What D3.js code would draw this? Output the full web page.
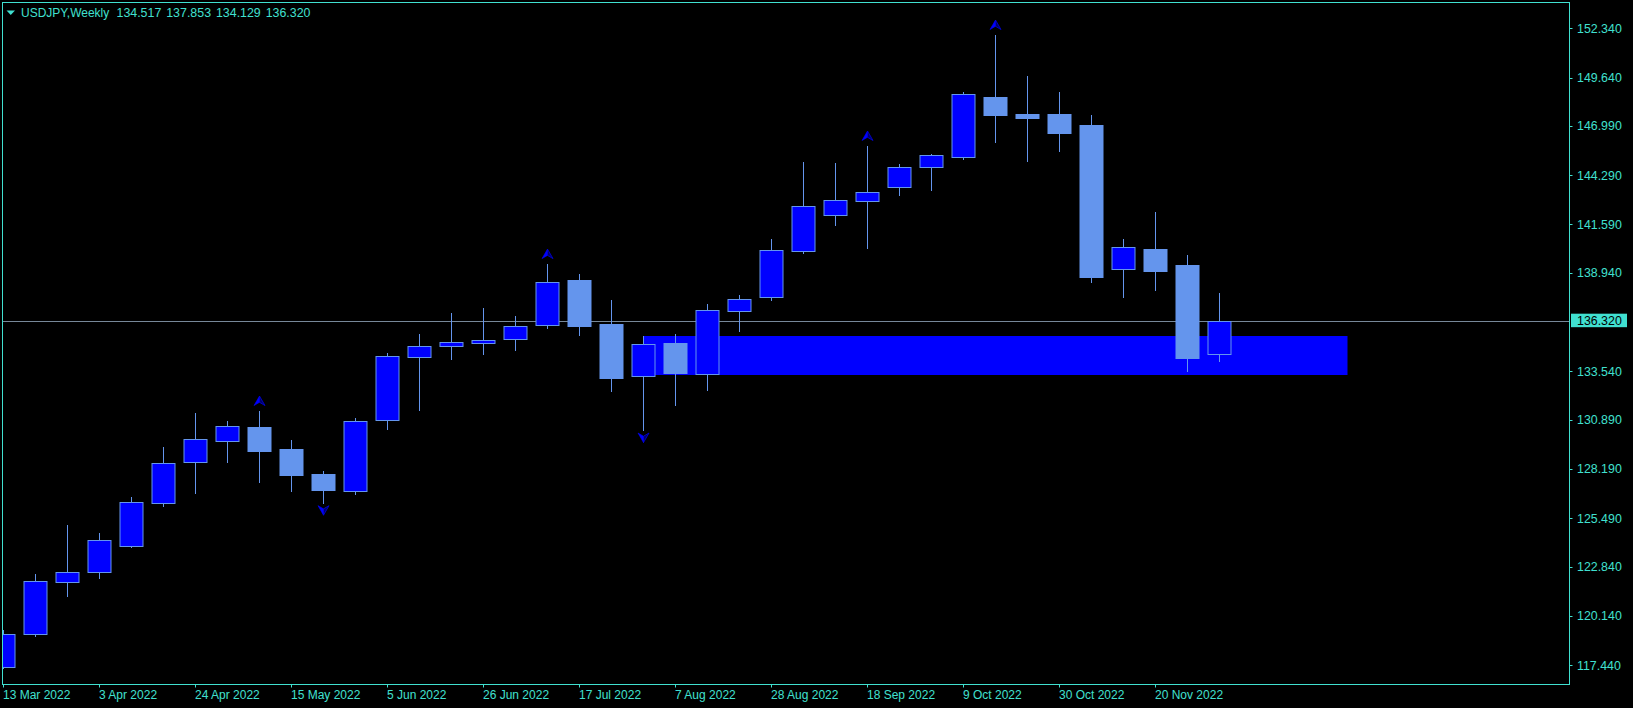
<!DOCTYPE html>
<html>
<head>
<meta charset="utf-8">
<script src="https://cdn.jsdelivr.net/npm/d3@7/dist/d3.min.js"></script>
<style>
  html, body { margin: 0; padding: 0; background: #000; overflow: hidden; }
  svg { display: block; }
  text { font-family: "Liberation Sans", Arial, sans-serif; }
</style>
</head>
<body>
<svg id="chart" width="1633" height="708"></svg>
<script>
// ---- Data (USDJPY weekly) ----
const symbol = "USDJPY,Weekly";
const lastOHLC = ["134.517", "137.853", "134.129", "136.320"];
const opens  = [117.33,119.13,122.02,122.56,123.96,126.35,128.56,129.71,130.49,129.29,127.92,127.00,130.86,134.31,134.92,135.08,135.30,136.07,138.53,136.12,133.27,135.10,133.38,136.83,137.60,140.12,142.09,142.86,143.63,144.72,145.27,148.58,147.64,147.64,147.04,139.13,140.25,139.37,134.517];
const highs  = [119.37,122.44,125.12,124.69,126.66,129.40,131.26,130.82,131.37,129.78,128.08,130.99,134.53,135.59,136.74,137.01,136.58,139.42,138.88,137.45,135.48,135.59,137.23,137.73,140.79,145.01,144.96,145.89,144.90,145.45,148.85,151.97,149.73,148.85,147.59,140.79,142.27,139.92,137.853];
const lows   = [117.27,119.04,121.25,122.24,123.93,126.18,126.89,128.59,127.50,126.99,126.35,126.84,130.40,131.44,134.22,134.51,134.73,135.93,135.55,132.48,130.33,131.72,132.54,135.77,137.47,140.04,141.58,140.32,143.19,143.50,145.19,146.13,145.09,145.63,138.46,137.63,138.00,133.58,134.129];
const closes = [119.13,122.04,122.53,124.29,126.37,128.50,129.82,130.53,129.18,127.88,127.04,130.81,134.37,134.92,135.13,135.24,136.01,138.42,136.04,133.19,135.02,133.45,136.89,137.49,140.18,142.59,142.92,143.35,144.72,145.38,148.72,147.61,147.44,146.62,138.73,140.34,139.06,134.29,136.320];
const dateLabels = ["13 Mar 2022","3 Apr 2022","24 Apr 2022","15 May 2022","5 Jun 2022","26 Jun 2022","17 Jul 2022","7 Aug 2022","28 Aug 2022","18 Sep 2022","9 Oct 2022","30 Oct 2022","20 Nov 2022"];
const dateLabelIdx = [0,3,6,9,12,15,18,21,24,27,30,33,36];
const priceTicks = [152.340,149.640,146.990,144.290,141.590,138.940,133.540,130.890,128.190,125.490,122.840,120.140,117.440];
const upFractals = [8,17,27,31];
const downFractals = [10,20];
const zoneFrom = 20, zoneTo = 42, zoneTop = 135.48, zoneBottom = 133.34;
const currentPrice = 136.320;

// ---- Layout ----
const W = 1633, H = 708;
const plot = { left: 2.5, top: 2.5, right: 1569.5, bottom: 684.5 };
const cText = "#40E0D0";
const cBull = "#0000FF", cBear = "#6495ED", cWick = "#6495ED";

const svg = d3.select("#chart");
svg.append("rect").attr("width", W).attr("height", H).attr("fill", "#000");

const x = d3.scaleLinear().domain([0, 1]).range([3.5, 35.5]);
const y = d3.scaleLinear().domain([116.415, 153.78]).range([684, 2]);
const snap = v => Math.round(v) + 0.5;

svg.append("clipPath").attr("id", "clip").append("rect")
  .attr("x", plot.left + 0.5).attr("y", plot.top + 0.5)
  .attr("width", plot.right - plot.left - 1).attr("height", plot.bottom - plot.top - 1);

const g = svg.append("g").attr("clip-path", "url(#clip)");

// zone rectangle
g.append("rect")
  .attr("x", x(zoneFrom)).attr("y", Math.round(y(zoneTop)))
  .attr("width", x(zoneTo) - x(zoneFrom))
  .attr("height", Math.round(y(zoneBottom)) - Math.round(y(zoneTop)))
  .attr("fill", "#0000FF");

// current price line
g.append("line")
  .attr("x1", plot.left).attr("x2", plot.right)
  .attr("y1", snap(y(currentPrice))).attr("y2", snap(y(currentPrice)))
  .attr("stroke", "#778899").attr("stroke-width", 1);

const idx = d3.range(opens.length);

// wicks
g.selectAll("line.wick").data(idx).join("line")
  .attr("class", "wick")
  .attr("x1", i => x(i)).attr("x2", i => x(i))
  .attr("y1", i => Math.round(y(highs[i]))).attr("y2", i => Math.round(y(lows[i])) + 1)
  .attr("stroke", cWick).attr("stroke-width", 1);

// bodies
g.selectAll("rect.body").data(idx).join("rect")
  .attr("class", "body")
  .attr("x", i => x(i) - 11.5)
  .attr("width", 23)
  .attr("y", i => snap(y(Math.max(opens[i], closes[i]))))
  .attr("height", i => Math.max(1, Math.round(y(Math.min(opens[i], closes[i]))) - Math.round(y(Math.max(opens[i], closes[i])))))
  .attr("fill", i => closes[i] >= opens[i] ? cBull : cBear)
  .attr("stroke", cWick).attr("stroke-width", 1);

// fractal arrows (two-tone arrowheads)
const upLeft = "M0,-9.5 L-5.5,0 L0,-3.2 Z", upRight = "M0,-9.5 L5.5,0 L0,-3.2 Z";
const dnLeft = "M0,9.5 L-5.5,0 L0,3.2 Z", dnRight = "M0,9.5 L5.5,0 L0,3.2 Z";
function arrows(cls, data, leftD, rightD, pos) {
  const a = g.selectAll("g." + cls).data(data).join("g")
    .attr("class", cls)
    .attr("transform", i => `translate(${x(i)},${pos(i)})`);
  a.append("path").attr("d", leftD).attr("fill", "#0000FF").attr("stroke", "#0000FF").attr("stroke-width", 0.6);
  a.append("path").attr("d", rightD).attr("fill", "#00006A").attr("stroke", "#0000E0").attr("stroke-width", 0.8);
}
arrows("up", upFractals, upLeft, upRight, i => y(highs[i]) - 5.5);
arrows("down", downFractals, dnLeft, dnRight, i => y(lows[i]) + 3);

// border
svg.append("rect")
  .attr("x", plot.left).attr("y", plot.top)
  .attr("width", plot.right - plot.left).attr("height", plot.bottom - plot.top)
  .attr("fill", "none").attr("stroke", cText).attr("stroke-width", 1);

// right price axis
const ya = svg.append("g");
ya.selectAll("line").data(priceTicks).join("line")
  .attr("x1", plot.right).attr("x2", plot.right + 3)
  .attr("y1", d => snap(y(d))).attr("y2", d => snap(y(d)))
  .attr("stroke", cText);
ya.selectAll("text").data(priceTicks).join("text")
  .attr("x", 1577).attr("y", d => y(d) + 4.4)
  .attr("fill", cText).attr("font-size", "12.4px")
  .text(d => d.toFixed(3));

// current price label
svg.append("rect")
  .attr("x", 1571).attr("y", y(currentPrice) - 7)
  .attr("width", 56).attr("height", 13.5)
  .attr("fill", cText);
svg.append("text")
  .attr("x", 1577).attr("y", y(currentPrice) + 4.4)
  .attr("fill", "#000").attr("font-size", "12.4px")
  .text(currentPrice.toFixed(3));

// bottom date axis
const xa = svg.append("g");
xa.selectAll("line").data(dateLabelIdx).join("line")
  .attr("x1", i => x(i)).attr("x2", i => x(i))
  .attr("y1", plot.bottom).attr("y2", plot.bottom + 3)
  .attr("stroke", cText);
xa.selectAll("text").data(dateLabelIdx).join("text")
  .attr("x", i => x(i) - 0.5).attr("y", 699)
  .attr("fill", cText).attr("font-size", "12px")
  .text((i, k) => dateLabels[k]);

// header
svg.append("path").attr("d", "M6.5,10.5 L15,10.5 L10.75,15 Z").attr("fill", cText);
svg.append("text").attr("x", 21).attr("y", 16.8)
  .attr("fill", cText).attr("font-size", "12px")
  .text(symbol);
svg.append("text").attr("x", 116.5).attr("y", 16.8)
  .attr("fill", cText).attr("font-size", "12.4px").attr("word-spacing", "1.5px")
  .text(lastOHLC.join(" "));
</script>
</body>
</html>
